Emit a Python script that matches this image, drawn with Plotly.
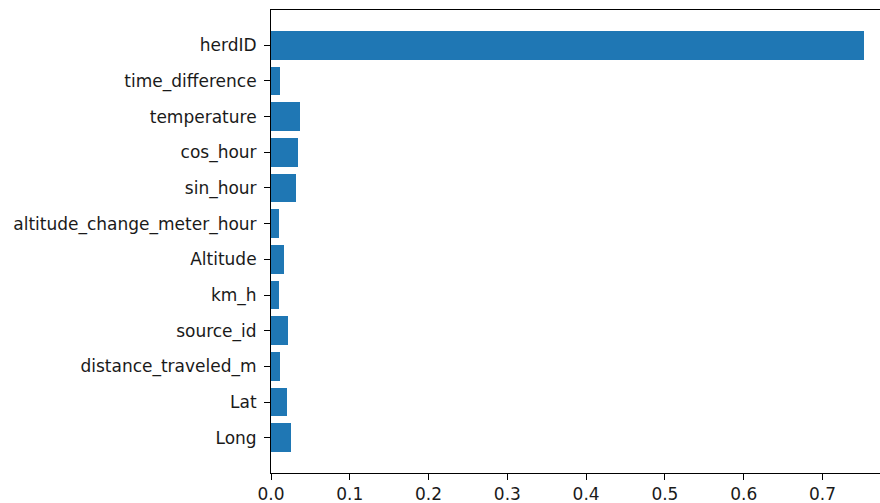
import plotly.graph_objects as go

features = ["Long", "Lat", "distance_traveled_m", "source_id", "km_h", "Altitude",
            "altitude_change_meter_hour", "sin_hour", "cos_hour", "temperature",
            "time_difference", "herdID"]
importance = [0.025, 0.020, 0.012, 0.022, 0.010, 0.017,
              0.010, 0.032, 0.034, 0.037, 0.012, 0.7525]
x_ticks = [0.0, 0.1, 0.2, 0.3, 0.4, 0.5, 0.6, 0.7]
x_tick_text = ["0.0", "0.1", "0.2", "0.3", "0.4", "0.5", "0.6", "0.7"]

fig = go.Figure(go.Bar(
    x=importance, y=list(range(len(features))), orientation="h",
    width=0.8, marker=dict(color="#1f77b4", line=dict(width=0)),
))

font = dict(family="DejaVu Sans", size=17, color="#1a1a1a")
fig.update_layout(
    width=880, height=503,
    margin=dict(l=271, r=0, t=10, b=30),
    plot_bgcolor="white", paper_bgcolor="white",
    showlegend=False, font=font,
    bargap=0,
)
fig.update_xaxes(
    range=[0, 0.773], tickvals=x_ticks, ticktext=x_tick_text,
    showgrid=False, zeroline=False,
    showline=True, linecolor="black", linewidth=1, mirror=True,
    ticks="outside", ticklen=6, tickcolor="black", tickwidth=1,
    tickfont=font,
)
fig.update_yaxes(
    range=[-0.99, 11.99], tickvals=list(range(len(features))), ticktext=features,
    showgrid=False, zeroline=False,
    showline=True, linecolor="black", linewidth=1,
    ticks="outside", ticklen=6, tickcolor="black", tickwidth=1,
    tickfont=font, ticklabelstandoff=4,
)
fig.write_html("out.html", config={"displayModeBar": False},
               post_script="document.body.style.margin='0px';")
